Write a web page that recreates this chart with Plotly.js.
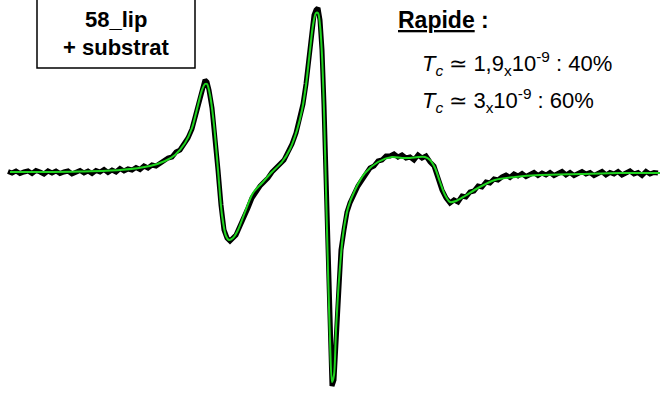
<!DOCTYPE html>
<html>
<head>
<meta charset="utf-8">
<script src="https://cdn.plot.ly/plotly-3.0.1.min.js"></script>
<style>html,body{margin:0;padding:0;background:#fff;}#chart{width:661px;height:394px;}</style>
</head>
<body>
<div id="chart"></div>
<script>
const dataX = [8,12,16,20,24,28,32,36,40,44,48,52,56,60,64,68,72,76,80,84,88,92,96,100,104,108,112,116,120,124,128,132,136,140,144,148,152,156,160,
  164,168,172,176,180,184,188,192,196,200,203,205,207,209,212,215,218,221,224,227,230,233,236,240,244,248,252,256,260,264,268,272,276,280,284,288,292,296,300,303,306,309,312,314,316,318,320,322,324,326,328,330,332,334,336,338,341,344,347,350,354,358,362,366,370,374,378,382,386,390,394,398,402,406,410,414,418,422,426,430,434,438,442,446,450,454,458,462,466,470,474,478,482,486,490,494,498,
  502,506,510,514,518,522,526,530,534,538,542,546,550,554,558,562,566,570,574,578,582,586,590,594,598,602,606,610,614,618,622,626,630,634,638,642,646,650,654,658];
const dataY = [171.5,173,171,173.5,172,171,173.5,170.5,172,174,171,173,171,173.5,172,171,174,172,170.5,173,171,173.5,170.5,172,169.5,172.5,170,172,168.5,171,169,170,167.5,169.5,166,168,165,166,163,
  160,158,157,152,150,144,138,129,115,97,86,80,82,90,108,135,170,205,230,238,241,238,235,226,218,208,198,191,186,182,178,172,168,164,160,152,144,133,118,104,84,55,28,15,10,8,20,50,105,185,265,335,386,380,335,290,250,230,212,203,193,186,180,175,168,166,161,160,156,156,154,157,155,158,157,160,155,158,156,162,166,178,190,198,203,200,202,196,197,192,191,186,187,182,183,179,180,
  177,175,177.5,174,176,173.5,176.5,174,172.5,175.5,173,175,172.5,175.5,173,171.5,175,172.5,175.5,173,171.5,174,172.5,175.5,173,171.5,175,172.5,174,171.5,175,173,171,174,172.5,175.5,171.5,174,172.5,173];

// Fitted simulation (green)
const fitX = [10,40,80,120,150,165,175,185,192,198,202,205,207,210,214,218,222,226,229,233,238,245,253,262,272,282,290,297,302,306,310,313,316,318,320,322,324,326,328,330,332,334,336,339,343,348,355,365,378,392,402,410,418,425,430,435,440,445,450,456,465,478,495,515,540,580,620,660];
const fitY = [172,172,171.5,170,166,161,155,143,128,105,90,84,84,95,125,170,215,236,240,238,230,212,193,183,172,162,149,130,110,85,50,25,13,13,25,55,110,190,270,340,382,375,330,280,235,208,190,173,162,157,158,158,157,157,160,168,182,195,202,201,196,188,180,177,175,174,173,173];

const sampleLabel = ['58_lip', '+ substrat'];
const regimeLabel = 'Rapide';
const tcLines = ['<i>T</i><sub><i>c</i></sub> \u2243 1,9<sub>x</sub>10<sup>-9</sup> : 40%',
                 '<i>T</i><sub><i>c</i></sub> \u2243 3<sub>x</sub>10<sup>-9</sup> : 60%'];

const traces = [
  {x: dataX, y: dataY, mode: 'lines', line: {color: '#000', width: 5}, hoverinfo: 'skip'},
  {x: fitX, y: fitY, mode: 'lines', line: {color: '#1fd41f', width: 2, shape: 'spline', smoothing: 0.8}, hoverinfo: 'skip'}
];

const font = 'Liberation Sans, Arial, sans-serif';
const layout = {
  width: 661, height: 394,
  margin: {l: 0, r: 0, t: 0, b: 0},
  paper_bgcolor: '#fff', plot_bgcolor: '#fff',
  showlegend: false,
  xaxis: {range: [0, 661], visible: false, fixedrange: true},
  yaxis: {range: [394, 0], visible: false, fixedrange: true},
  shapes: [
    {type: 'rect', xref: 'x', yref: 'y', x0: 37, x1: 195, y0: -5, y1: 68, line: {color: '#000', width: 1.5}, fillcolor: 'rgba(0,0,0,0)'}
  ],
  annotations: [
    {xref: 'x', yref: 'y', x: 116, y: 19, text: '<b>' + sampleLabel[0] + '</b>', showarrow: false, font: {family: font, size: 22, color: '#000'}},
    {xref: 'x', yref: 'y', x: 116, y: 47, text: '<b>' + sampleLabel[1] + '</b>', showarrow: false, font: {family: font, size: 22, color: '#000'}},
    {xref: 'x', yref: 'y', x: 396, y: 20, xanchor: 'left', text: '<b><u>' + regimeLabel + '</u> :</b>', showarrow: false, font: {family: font, size: 23, color: '#000'}},
    {xref: 'x', yref: 'y', x: 420, y: 63, xanchor: 'left', text: tcLines[0], showarrow: false, font: {family: font, size: 22, color: '#000'}},
    {xref: 'x', yref: 'y', x: 420, y: 100, xanchor: 'left', text: tcLines[1], showarrow: false, font: {family: font, size: 22, color: '#000'}}
  ]
};

Plotly.newPlot('chart', traces, layout, {displayModeBar: false, staticPlot: true});
</script>
</body>
</html>
